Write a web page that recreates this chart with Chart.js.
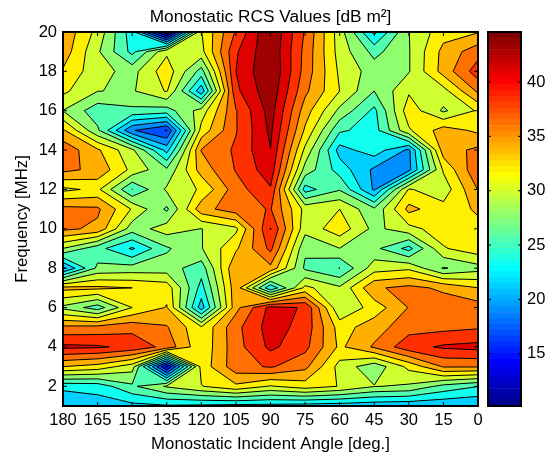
<!DOCTYPE html>
<html>
<head>
<meta charset="utf-8">
<title>Monostatic RCS Values</title>
<script src="https://cdn.jsdelivr.net/npm/chart.js@4"></script>
<style>
    html, body { margin: 0; padding: 0; background: #fff; }
    #wrap { position: relative; width: 548px; height: 456px; overflow: hidden; }
    canvas { position: absolute; top: 0; }
</style>
</head>
<body>
<div id="wrap">
    <canvas id="contourChart" width="548" height="456" style="left:0"></canvas>
    <canvas id="colorbarChart" width="61" height="456" style="left:487px"></canvas>
</div>
<script>
const angles = [180, 165, 150, 135, 120, 105, 90, 75, 60, 45, 30, 15, 0];
const frequencies = [1, 2, 3, 4, 5, 6, 7, 8, 9, 10, 11, 12, 13, 14, 15, 16, 17, 18, 19, 20];

// one row per frequency, same order as angles
const rcsByFrequency = [
    [21, 21.9, 22.4, 22.8, 22.6, 22.3, 22.3, 22, 21.8, 21.5, 21.3, 21.2, 21],
    [23.7, 24, 27, 29.8, 31.6, 33.4, 31.5, 32.8, 31.6, 29.65, 29.2, 26.7, 25.3],
    [33.85, 33, 30.5, 14, 32.5, 37.3, 38.4, 36.6, 30.9, 28.1, 32.3, 36.2, 36.2],
    [40.8, 40.6, 39.7, 37.4, 32.2, 37.3, 40.8, 38.8, 33.4, 36.3, 39.5, 40.63, 41],
    [36.5, 36.7, 37.4, 36.2, 32, 37.5, 41.3, 39.5, 32.9, 35, 37.3, 37.5, 37.9],
    [29, 26.3, 31.7, 34, 22, 35.3, 41, 40.1, 29.7, 32.65, 36.1, 37.2, 37],
    [34.5, 34.3, 33.85, 33, 24.4, 35.3, 23.4, 32.3, 29.9, 35.7, 36.6, 35.6, 33.9],
    [20.5, 27.9, 28.3, 28.4, 26.2, 35.9, 35.45, 27, 25.2, 30.7, 31.3, 27.2, 28.7],
    [29.5, 26, 22.8, 27.1, 29.4, 33.5, 38.7, 27.8, 29.5, 28, 24.5, 31.5, 33],
    [36.5, 35.5, 28.4, 30.6, 29.5, 31.2, 40.4, 30.3, 33, 28.9, 31, 32.8, 33.2],
    [36.7, 36.4, 31.5, 27, 35.2, 37.2, 38.3, 31, 31.7, 27.8, 34.5, 32.5, 34.2],
    [31.2, 32.2, 25.2, 29.9, 32, 37.2, 40.05, 24.3, 27.2, 20.6, 31.9, 30.4, 36.1],
    [36.6, 35.4, 31.1, 27.8, 34.8, 38.3, 41.6, 28.7, 24.3, 20.5, 20.3, 32, 37.8],
    [37.5, 34.2, 30, 22.3, 36.1, 38.5, 42.4, 31.2, 22.2, 24.3, 20.5, 35, 36.5],
    [34.2, 27.8, 19, 16.5, 32.5, 38, 42.9, 33.5, 25.6, 24.3, 31.4, 34.9, 33.4],
    [29.5, 26.1, 26.9, 26.4, 30.5, 38, 43.4, 34.9, 29, 24.7, 33, 29.2, 32],
    [32.2, 29.6, 29.3, 31.9, 21.6, 39.8, 44, 36.5, 31.7, 27.4, 31.4, 30.9, 36.4],
    [33.6, 30.3, 28.8, 33, 26.5, 40.3, 44.6, 37.3, 31.3, 28.5, 29.4, 34.7, 39.3],
    [35.1, 29.9, 24.6, 31.3, 31, 40, 44.3, 37.5, 30.8, 26.7, 29.4, 34.5, 37.3],
    [35.5, 31, 24, 10.2, 31.6, 38.4, 44.6, 37.9, 30.6, 22.5, 29.5, 33, 33.7]
];

const contourLevels = [10.2, 12.35, 14.5, 16.65, 18.8, 20.95, 23.1, 25.25, 27.4, 29.55, 31.7, 33.85, 36, 38.15, 40.3, 42.45];
const bandColorIndex = [1, 5, 9, 13, 17, 21, 25, 29, 33, 37, 41, 45, 49, 53, 58, 62];
const xTicks = [180, 165, 150, 135, 120, 105, 90, 75, 60, 45, 30, 15, 0];
const yTicks = [2, 4, 6, 8, 10, 12, 14, 16, 18, 20];
const colorbarTicks = [15, 20, 25, 30, 35, 40];
const colorMin = 10.2;
const colorMax = 44.6;

const FONT = '"Liberation Sans", Arial, sans-serif';

// matlab jet, index 1..64
function jet(k) {
    const ramp = function (c) {
        return Math.round(255 * Math.max(0, Math.min(1, 1.5 - Math.abs(4 * c))));
    };
    const pos = k / 64;
    return 'rgb(' + ramp(pos - 0.75) + ',' + ramp(pos - 0.5) + ',' + ramp(pos - 0.25) + ')';
}

function cross(a, b, level) {
    const f = (level - a.z) / (b.z - a.z);
    return {x: a.x + f * (b.x - a.x), y: a.y + f * (b.y - a.y), z: level};
}

// part of one grid cell at or above level, and the contour pieces in it
function clipCell(c, level) {
    const isIn = c.map(p => p.z >= level);
    const polys = [];
    const segs = [];
    const saddle = isIn[0] === isIn[2] && isIn[1] === isIn[3] && isIn[0] !== isIn[1];
    const mean = (c[0].z + c[1].z + c[2].z + c[3].z) / 4;
    if (saddle && mean < level) {
        for (let k = 0; k < 4; k++) {
            if (isIn[k]) {
                const p1 = cross(c[k], c[(k + 3) % 4], level);
                const p2 = cross(c[k], c[(k + 1) % 4], level);
                polys.push([p1, c[k], p2]);
                segs.push([p1, p2]);
            }
        }
        return {polys, segs};
    }
    const pts = [];
    const crossings = [];
    for (let k = 0; k < 4; k++) {
        const n = (k + 1) % 4;
        if (isIn[k]) pts.push(c[k]);
        if (isIn[k] !== isIn[n]) {
            const p = cross(c[k], c[n], level);
            pts.push(p);
            crossings.push(p);
        }
    }
    if (pts.length) polys.push(pts);
    const m = crossings.length;
    const start = isIn[0] ? 0 : 1;
    for (let k = 0; k < m; k += 2) {
        segs.push([crossings[(start + k) % m], crossings[(start + k + 1) % m]]);
    }
    return {polys, segs};
}

function drawBox(ctx, area) {
    ctx.strokeStyle = '#000';
    ctx.lineWidth = 2;
    ctx.strokeRect(area.left, area.top, area.right - area.left, area.bottom - area.top);
}

const contourPlugin = {
    id: 'contourPlugin',
    beforeDatasetsDraw(chart) {
        const ctx = chart.ctx;
        const area = chart.chartArea;
        const xs = chart.scales.x;
        const ys = chart.scales.y;
        const px = p => ({x: xs.getPixelForValue(p.x), y: ys.getPixelForValue(p.y)});
        ctx.save();
        ctx.beginPath();
        ctx.rect(area.left, area.top, area.right - area.left, area.bottom - area.top);
        ctx.clip();

        const allSegs = [];
        contourLevels.forEach(function (level, i) {
            ctx.beginPath();
            for (let r = 0; r < frequencies.length - 1; r++) {
                for (let a = 0; a < angles.length - 1; a++) {
                    const cell = [
                        {x: angles[a], y: frequencies[r], z: rcsByFrequency[r][a]},
                        {x: angles[a + 1], y: frequencies[r], z: rcsByFrequency[r][a + 1]},
                        {x: angles[a + 1], y: frequencies[r + 1], z: rcsByFrequency[r + 1][a + 1]},
                        {x: angles[a], y: frequencies[r + 1], z: rcsByFrequency[r + 1][a]}
                    ];
                    const res = clipCell(cell, i === 0 ? -1000 : level);
                    res.polys.forEach(function (poly) {
                        poly.forEach(function (p, k) {
                            const q = px(p);
                            if (k === 0) ctx.moveTo(q.x, q.y); else ctx.lineTo(q.x, q.y);
                        });
                        ctx.closePath();
                    });
                    if (i > 0) res.segs.forEach(s => allSegs.push(s));
                }
            }
            ctx.fillStyle = jet(bandColorIndex[i]);
            ctx.fill();
        });

        ctx.beginPath();
        allSegs.forEach(function (s) {
            const p1 = px(s[0]);
            const p2 = px(s[1]);
            ctx.moveTo(p1.x, p1.y);
            ctx.lineTo(p2.x, p2.y);
        });
        ctx.strokeStyle = '#000';
        ctx.lineWidth = 1;
        ctx.stroke();
        ctx.restore();
    },
    afterDraw(chart) {
        const ctx = chart.ctx;
        const area = chart.chartArea;
        ctx.save();
        ctx.strokeStyle = '#000';
        ctx.lineWidth = 1;
        ctx.beginPath();
        xTicks.forEach(function (v) {
            const x = chart.scales.x.getPixelForValue(v);
            ctx.moveTo(x, area.top);
            ctx.lineTo(x, area.top + 4);
            ctx.moveTo(x, area.bottom);
            ctx.lineTo(x, area.bottom - 4);
        });
        yTicks.forEach(function (v) {
            const y = chart.scales.y.getPixelForValue(v);
            ctx.moveTo(area.left, y);
            ctx.lineTo(area.left + 4, y);
            ctx.moveTo(area.right, y);
            ctx.lineTo(area.right - 4, y);
        });
        ctx.stroke();
        drawBox(ctx, area);
        ctx.restore();
    }
};

const colorbarPlugin = {
    id: 'colorbarPlugin',
    afterDraw(chart) {
        const ctx = chart.ctx;
        const area = chart.chartArea;
        ctx.save();
        ctx.strokeStyle = '#000';
        ctx.lineWidth = 1;
        ctx.beginPath();
        colorbarTicks.forEach(function (v) {
            const y = chart.scales.y.getPixelForValue(v);
            ctx.moveTo(area.left, y);
            ctx.lineTo(area.left + 3, y);
            ctx.moveTo(area.right, y);
            ctx.lineTo(area.right - 3, y);
        });
        ctx.stroke();
        drawBox(ctx, area);
        ctx.restore();
    }
};

new Chart(document.getElementById('contourChart'), {
    type: 'scatter',
    data: {datasets: [{data: [], pointRadius: 0}]},
    plugins: [contourPlugin],
    options: {
        responsive: false,
        animation: false,
        devicePixelRatio: 1,
        layout: {padding: {right: 70}},
        plugins: {
            legend: {display: false},
            tooltip: {enabled: false},
            title: {
                display: true,
                fullSize: false,
                text: 'Monostatic RCS Values [dB m\u00B2]',
                color: '#000',
                font: {family: FONT, size: 17.3, weight: 'normal'},
                padding: {top: 6.6, bottom: 4.6}
            }
        },
        scales: {
            x: {
                type: 'linear',
                reverse: true,
                min: 0,
                max: 180,
                afterBuildTicks: function (s) { s.ticks = xTicks.map(v => ({value: v})); },
                afterFit: function (s) { s.height = 50; },
                grid: {display: false, drawTicks: false},
                border: {display: false},
                ticks: {color: '#000', font: {family: FONT, size: 16.5}, maxRotation: 0, autoSkip: false, padding: 5},
                title: {display: true, text: 'Monostatic Incident Angle [deg.]', color: '#000', font: {family: FONT, size: 16.8}, padding: {top: 0, bottom: 2}}
            },
            y: {
                type: 'linear',
                min: 1,
                max: 20,
                afterBuildTicks: function (s) { s.ticks = yTicks.map(v => ({value: v})); },
                afterFit: function (s) { s.width = 63; },
                grid: {display: false, drawTicks: false},
                border: {display: false},
                ticks: {color: '#000', font: {family: FONT, size: 16.5}, autoSkip: false, padding: 6},
                title: {display: true, text: 'Frequency [MHz]', color: '#000', font: {family: FONT, size: 16.8}, padding: {top: 12, bottom: 0}}
            }
        }
    }
});

const colorStep = (colorMax - colorMin) / 64;
const colorCells = [];
for (let k = 0; k < 64; k++) colorCells.push(k);

new Chart(document.getElementById('colorbarChart'), {
    type: 'bar',
    data: {
        labels: ['RCS'],
        datasets: colorCells.map(k => ({
            data: [[colorMin + k * colorStep, colorMin + (k + 1) * colorStep]],
            backgroundColor: jet(k + 1),
            borderWidth: 0,
            grouped: false,
            barPercentage: 1,
            categoryPercentage: 1
        }))
    },
    plugins: [colorbarPlugin],
    options: {
        responsive: false,
        animation: false,
        devicePixelRatio: 1,
        layout: {padding: {left: 1, top: 32, bottom: 50}},
        plugins: {legend: {display: false}, tooltip: {enabled: false}},
        scales: {
            x: {display: false},
            y: {
                position: 'right',
                min: colorMin,
                max: colorMax,
                afterBuildTicks: function (s) { s.ticks = colorbarTicks.map(v => ({value: v})); },
                afterFit: function (s) { s.width = 27; },
                grid: {display: false, drawTicks: false},
                border: {display: false},
                ticks: {color: '#000', font: {family: FONT, size: 16.5}, autoSkip: false, padding: 6}
            }
        }
    }
});
</script>
</body>
</html>
